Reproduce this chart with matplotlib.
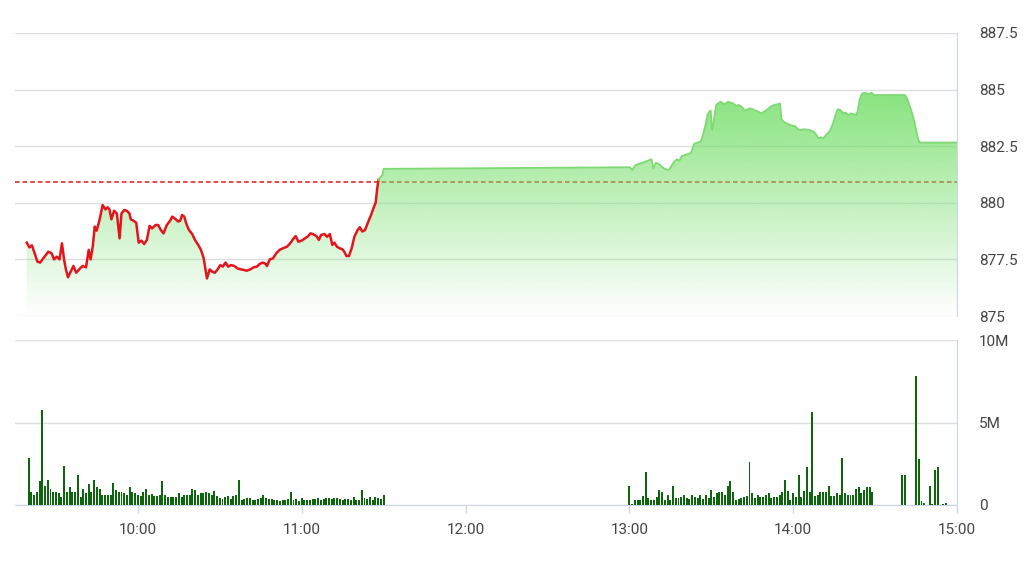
import numpy as np
import matplotlib.pyplot as plt
from matplotlib.colors import to_rgb

plt.rcParams['font.family'] = ['Roboto', 'DejaVu Sans']

# time axis: minutes after 9:00
ref_price = 880.9

price_t = [19.3, 20.3, 21.2, 22.2, 23.2, 24.2, 25.4, 27.2, 28.4, 29.3,
           30.3, 31.3, 32.2, 33.0, 33.7, 34.4, 35.4, 36.4, 37.4, 38.8,
           39.8, 41.0, 42.0, 42.7, 43.5, 44.2, 44.9, 45.9, 47.1, 48.1,
           48.9, 49.6, 50.3, 51.3, 52.3, 53.3, 54.0, 55.0, 55.9, 56.9,
           57.4, 58.4, 59.4, 60.3, 61.3, 62.3, 63.3, 64.3, 65.2, 66.5,
           67.4, 68.4, 69.4, 70.6, 71.8, 72.6, 73.5, 74.8, 75.5, 76.2,
           77.0, 77.7, 78.7, 79.9, 80.9, 82.1, 83.1, 84.1, 84.8, 85.3,
           86.3, 87.2, 88.2, 89.2, 90.2, 91.1, 92.1, 93.1, 94.1, 95.3,
           96.5, 97.7, 99.0, 99.9, 101.2, 102.4, 103.6, 104.6, 105.8, 106.8,
           107.3, 108.3, 109.5, 110.7, 111.9, 113.1, 114.6, 115.8, 116.8, 117.8,
           118.8, 120.0, 121.2, 122.4, 123.2, 124.1, 125.4, 126.3, 127.1, 128.3,
           129.3, 130.3, 131.2, 132.0, 132.9, 133.9, 134.9, 135.6, 136.4, 137.3,
           138.3, 139.3, 140.5, 141.3, 142.2, 143.2, 144.4, 145.4, 146.4, 147.1,
           147.6, 148.1, 148.8, 149.6,
           150.0, 240.2,
           241.1, 242.3, 244.8, 246.6, 248.1, 248.8, 249.7, 250.9, 252.1, 253.3,
           254.5, 255.4, 256.4, 257.4, 258.3, 259.3, 260.3, 261.5, 262.5, 263.2,
           263.7, 264.9, 266.2, 267.1, 267.9, 268.6, 269.3, 269.8, 270.3, 270.8,
           271.3, 271.8, 272.5, 273.5, 274.5, 275.3, 276.2, 277.2, 278.1, 279.1,
           280.1, 281.3, 282.3, 283.3, 284.2, 285.2, 286.2, 287.2, 288.2, 289.4,
           290.6, 291.8, 293.0, 294.5, 295.2, 295.7, 296.9, 298.2, 299.4, 300.6,
           301.8, 302.8, 304.0, 305.9, 307.5, 308.3, 309.2, 310.2, 311.1, 312.0,
           312.9, 313.6, 314.6, 315.5, 316.3, 317.2, 318.2, 319.2, 320.2, 321.2,
           322.1, 323.1, 323.6, 324.3, 325.1, 326.0, 326.8, 327.8, 328.7, 329.7,
           341.0, 341.7, 343.2, 344.4, 345.4, 346.2, 360.0]

price_v = [878.24, 878.03, 878.12, 877.77, 877.40, 877.36, 877.55, 877.84, 877.77, 877.50,
           877.62, 877.50, 878.21, 877.47, 877.03, 876.71, 876.96, 877.21, 876.91, 877.10,
           877.21, 877.15, 877.92, 877.50, 878.09, 878.95, 878.77, 879.21, 879.90, 879.71,
           879.80, 879.71, 879.27, 879.65, 879.53, 878.43, 879.53, 879.68, 879.65, 879.53,
           879.27, 879.21, 879.12, 878.24, 878.33, 878.18, 878.36, 878.98, 878.87, 879.02,
           879.02, 878.80, 878.65, 879.02, 879.21, 879.39, 879.31, 879.17, 879.21, 879.46,
           879.39, 879.09, 878.80, 878.62, 878.36, 878.14, 877.92, 877.55, 877.03, 876.66,
           877.06, 876.96, 876.91, 877.06, 877.25, 877.18, 877.36, 877.18, 877.25, 877.21,
           877.10, 877.06, 877.03, 877.00, 877.06, 877.15, 877.18, 877.30, 877.36, 877.30,
           877.21, 877.50, 877.55, 877.77, 877.92, 877.99, 878.06, 878.21, 878.39, 878.53,
           878.28, 878.33, 878.43, 878.53, 878.65, 878.62, 878.53, 878.36, 878.58, 878.62,
           878.50, 878.62, 878.14, 878.24, 878.06, 877.99, 877.95, 877.84, 877.65, 877.65,
           877.99, 878.50, 878.80, 878.92, 878.73, 878.80, 879.17, 879.46, 879.80, 880.01,
           880.57, 881.01, 881.13, 881.23,
           881.50, 881.57,
           881.45, 881.67, 881.77, 881.85, 881.92, 881.52, 881.77, 881.71, 881.57, 881.48,
           881.45, 881.62, 881.82, 881.92, 881.86, 882.07, 882.11, 882.16, 882.19, 882.41,
           882.60, 882.66, 882.70, 883.07, 883.44, 883.88, 884.03, 884.07, 883.22, 883.51,
           883.95, 884.32, 884.39, 884.47, 884.36, 884.39, 884.47, 884.42, 884.39, 884.28,
           884.32, 884.22, 884.07, 884.13, 884.17, 884.13, 884.07, 884.03, 883.95, 884.03,
           884.13, 884.25, 884.32, 884.36, 884.39, 883.69, 883.54, 883.48, 883.42, 883.39,
           883.25, 883.22, 883.25, 883.22, 883.14, 883.04, 882.85, 882.89, 882.85, 882.99,
           883.10, 883.22, 883.51, 883.88, 884.13, 884.10, 883.98, 883.98, 883.88, 883.95,
           883.92, 883.88, 884.03, 884.54, 884.81, 884.86, 884.84, 884.81, 884.86, 884.76,
           884.76, 884.61, 884.10, 883.58, 882.99, 882.66, 882.66]

# volume in millions, one bar per minute
vol_am_start = 20
vol_am = [2.85, 0.81, 0.63, 0.81, 1.47, 5.78, 1.17, 1.54, 0.97, 0.77,
          0.81, 0.73, 0.48, 2.38, 0.81, 1.09, 0.77, 0.81, 1.84, 0.48,
          0.97, 0.73, 1.29, 0.81, 1.54, 1.09, 0.97, 0.63, 0.63, 0.63,
          0.63, 1.33, 0.93, 0.81, 0.77, 0.73, 0.63, 1.09, 0.81, 0.73,
          0.63, 0.53, 0.77, 0.97, 0.63, 0.69, 0.53, 0.53, 0.63, 1.47,
          0.63, 0.48, 0.48, 0.48, 0.48, 0.73, 0.48, 0.63, 0.63, 0.63,
          0.97, 0.93, 0.63,
          0.73, 0.73, 0.77, 0.73, 0.63, 0.83, 0.57, 0.42, 0.36, 0.48,
          0.57, 0.36, 0.57, 0.63, 1.54, 0.28, 0.36, 0.42, 0.42, 0.32,
          0.32, 0.36, 0.42, 0.63, 0.42, 0.36, 0.36, 0.32,
          0.28, 0.22, 0.28, 0.32, 0.36, 0.81, 0.28, 0.36, 0.22, 0.42,
          0.32, 0.28, 0.32, 0.36, 0.36, 0.42, 0.28, 0.36,
          0.42, 0.42, 0.36, 0.42, 0.42, 0.36, 0.32,
          0.36, 0.36, 0.32, 0.48, 0.32, 0.28, 0.93, 0.42, 0.36, 0.48,
          0.32, 0.48, 0.42, 0.36, 0.63]
vol_pm_start = 240
vol_pm = [1.17, 0.08, 0.32, 0.28, 0.32, 0.53, 2.02, 0.42, 0.28, 0.28,
          0.48, 0.93, 0.81, 0.32, 0.63, 0.32, 1.17, 0.42, 0.42, 0.48,
          0.63, 0.42, 0.36, 0.63, 0.48, 0.42, 0.63, 0.36, 0.63, 0.42,
          0.93, 0.48, 0.73, 0.77, 0.77, 0.63, 1.17, 1.47, 0.77, 0.32,
          0.36, 0.42, 0.48, 0.53, 2.63, 0.73, 0.42, 0.63, 0.48, 0.48,
          0.61, 0.73, 0.42, 0.48, 0.48,
          0.63, 0.77, 1.54, 0.83, 0.32, 0.73, 0.48, 1.84, 0.48, 0.83,
          2.30, 0.77, 5.62, 0.53, 0.63, 0.77, 0.81, 0.81, 1.17, 0.53,
          0.53, 0.73, 0.63, 2.87, 0.73, 0.63, 0.63, 0.63, 0.97, 1.09,
          0.73, 0.93, 1.09, 1.09, 0.81]
vol_late_t = [340, 341, 345, 346, 347, 348, 350, 351, 352, 353, 355, 356]
vol_late = [1.84, 1.84, 7.80, 2.79, 0.22, 0.12, 1.13, 0.08, 2.14, 2.30, 0.08, 0.12]

hour_ticks = [60, 120, 180, 240, 300, 360]
hour_labels = ['10:00', '11:00', '12:00', '13:00', '14:00', '15:00']
price_ticks = [875, 877.5, 880, 882.5, 885, 887.5]
vol_ticks = [0, 5, 10]
vol_labels = ['0', '5M', '10M']

GRID = '#dedede'
AXIS = '#ccd6eb'
TXT = '#444444'
RED = '#e3141b'
GREEN_LINE = '#7dda73'
BAR = '#0d660d'

fig = plt.figure(figsize=(10.31, 5.79), dpi=100)
ax = fig.add_axes([15/1031, 1-316/579, 942/1031, 283/579])
axv = fig.add_axes([15/1031, 1-505/579, 942/1031, 165/579])

t = np.array(price_t)
p = np.array(price_v)

# gradient fill under the whole line
poly = ax.fill_between(t, p, 875, facecolor='none', edgecolor='none')
clip = poly.get_paths()[0]
levels = np.linspace(875, 887.5, 256)
grad = np.zeros((256, 1, 4))
grad[..., :3] = to_rgb('#76df6b')
grad[:, 0, 3] = np.clip(0.088 * (levels - 875), 0, 0.85)
im = ax.imshow(grad, extent=[15, 360, 875, 887.5], origin='lower',
               aspect='auto', interpolation='bilinear', zorder=2)
im.set_clip_path(clip, ax.transData)

ax.axhline(ref_price, color=RED, lw=1.1, ls=(0, (3, 2)), zorder=1.5)

cross = int(np.argmax(p > ref_price))
ax.plot(t[:cross + 1], p[:cross + 1], color=RED, lw=1.8, zorder=3)
ax.plot(t[cross:], p[cross:], color=GREEN_LINE, lw=1.3, zorder=3)

ax.set_xlim(15, 360)
ax.set_ylim(875, 887.5)
ax.set_yticks(price_ticks)
ax.set_yticklabels(['%g' % v for v in price_ticks])
ax.yaxis.tick_right()
ax.tick_params(axis='y', length=0, pad=16, labelsize=11, labelcolor=TXT)
ax.set_xticks([])
ax.grid(axis='y', color=GRID, lw=1)
ax.set_axisbelow(True)
for s in ['top', 'left', 'bottom']:
    ax.spines[s].set_visible(False)
ax.spines['right'].set_color(AXIS)

# volume bars
am_t = vol_am_start + np.arange(len(vol_am))
pm_t = vol_pm_start + np.arange(len(vol_pm))
axv.bar(am_t, vol_am, width=0.72, color=BAR, zorder=3)
axv.bar(pm_t, vol_pm, width=0.72, color=BAR, zorder=3)
axv.bar(vol_late_t, vol_late, width=0.72, color=BAR, zorder=3)

axv.set_xlim(15, 360)
axv.set_ylim(0, 10)
axv.set_yticks(vol_ticks)
axv.set_yticklabels(vol_labels)
axv.yaxis.tick_right()
axv.tick_params(axis='y', length=0, pad=16, labelsize=11, labelcolor=TXT)
axv.set_xticks(hour_ticks)
axv.set_xticklabels(hour_labels)
axv.tick_params(axis='x', length=6, width=1, color=AXIS, pad=7,
                labelsize=11, labelcolor=TXT)
axv.grid(axis='y', color=GRID, lw=1)
axv.set_axisbelow(True)
for s in ['top', 'left']:
    axv.spines[s].set_visible(False)
axv.spines['right'].set_color(AXIS)
axv.spines['bottom'].set_color(AXIS)

fig.savefig('out.png', dpi=100)
